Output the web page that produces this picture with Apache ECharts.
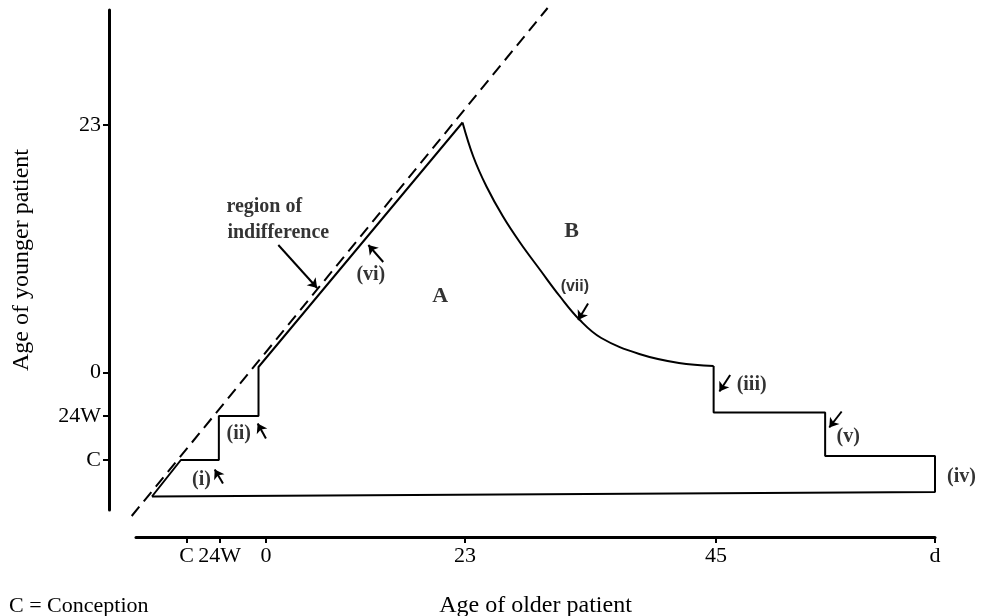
<!DOCTYPE html>
<html>
<head>
<meta charset="utf-8">
<title>Age of younger / older patient</title>
<script src="https://cdn.jsdelivr.net/npm/echarts/dist/echarts.min.js"></script>
<style>
  html, body { margin: 0; padding: 0; background: #fff; }
  #chart { width: 985px; height: 616px; }
</style>
</head>
<body>
<div id="chart"></div>
<script>
// schematic units: x 0..100 across the plot, y 0..100 up the plot
const xTickVals = [9.4, 13.4, 19.0, 43.1, 73.5, 100];
const xTickLabels = ['C', '24W', '0', '23', '45', 'd'];
const yTickVals = [10, 18.8, 27.5, 77];
const yTickLabels = ['C', '24W', '0', '23'];

// outline of region A, left stairs up to the peak
const stairLeft = [[5.2, 2.7], [8.7, 10], [13.3, 10], [13.3, 18.8], [18.1, 18.8], [18.1, 28.6], [42.8, 77.5]];
// curve (vii) from the peak down to the right stairs
const curveVii = [[42.8, 77.5], [44.1, 70.7], [45.7, 64.7], [47.7, 58.7], [49.8, 53.4], [52.2, 48.0],
  [54.6, 42.7], [57.0, 38.0], [59.6, 34.4], [64.2, 31.2], [69.0, 29.4], [73.2, 28.8]];
// right stairs and the bottom edge back to the start
const stairRight = [[73.2, 28.8], [73.2, 19.5], [86.7, 19.5], [86.7, 10.8], [100, 10.8], [100, 3.6], [5.2, 2.7]];
// dashed line of indifference
const diagonal = [[2.75, -1.2], [53.1, 100.4]];

// text annotations [x, y, text, style]
const notes = [
  [18.8, 60.6, 'region of', 'serif'],
  [20.5, 55.4, 'indifference', 'serif'],
  [31.7, 47.0, '(vi)', 'serif'],
  [40.1, 42.7, 'A', 'big'],
  [56.0, 55.7, 'B', 'big'],
  [56.4, 44.7, '(vii)', 'sans'],
  [77.8, 25.0, '(iii)', 'serif'],
  [89.5, 14.7, '(v)', 'serif'],
  [103.2, 6.7, '(iv)', 'serif'],
  [11.2, 6.0, '(i)', 'serif'],
  [15.7, 15.3, '(ii)', 'serif']
];
// arrows: from -> to (arrowhead at "to")
const arrows = [
  [[20.5, 53.0], [25.2, 44.4]],
  [[33.2, 49.6], [31.4, 53.0]],
  [[58.0, 41.3], [56.8, 38.0]],
  [[75.2, 27.0], [73.9, 23.7]],
  [[88.7, 19.7], [87.2, 16.5]],
  [[102.0, 11.0], [100.5, 8.0]],
  [[13.8, 5.3], [12.8, 8.1]],
  [[19.0, 14.3], [18.0, 17.3]]
];

const SERIF = '"Liberation Serif", "DejaVu Serif", serif';
const SANS = '"Liberation Sans", Arial, sans-serif';

function pick(vals, labels) {
  return function (v) {
    const i = vals.findIndex(t => Math.abs(t - v) < 1e-6);
    return i >= 0 ? labels[i] : '';
  };
}

const noteStyle = {
  serif: { fontFamily: SERIF, fontSize: 20, fontWeight: 'bold' },
  big: { fontFamily: SERIF, fontSize: 22, fontWeight: 'bold' },
  sans: { fontFamily: SANS, fontSize: 16, fontWeight: 'bold' }
};

const chart = echarts.init(document.getElementById('chart'));
const outline = { color: '#000', width: 2 };

chart.setOption({
  animation: false,
  backgroundColor: '#fff',
  title: {
    text: 'C = Conception',
    left: 4, top: 590,
    textStyle: { fontFamily: SERIF, fontSize: 22, fontWeight: 'normal', color: '#000' }
  },
  grid: [
    { left: 109, top: 10, right: 50, height: 500, containLabel: false, outerBoundsMode: 'none' },
    { left: 136, top: 536, right: 50, height: 1, containLabel: false, outerBoundsMode: 'none' }
  ],
  xAxis: [
    { type: 'value', gridIndex: 0, min: 0, max: 100, show: false },
    {
      type: 'value', gridIndex: 1, min: 3.27, max: 100, position: 'bottom',
      name: 'Age of older patient', nameLocation: 'middle', nameGap: 57,
      nameTextStyle: { fontFamily: SERIF, fontSize: 24, color: '#000' },
      axisLine: { show: true, lineStyle: { color: '#000', width: 3 } },
      axisTick: { show: true, length: 6, lineStyle: { color: '#000', width: 2 }, customValues: xTickVals },
      axisLabel: { margin: 8, fontFamily: SERIF, fontSize: 22, color: '#000',
        customValues: xTickVals, formatter: pick(xTickVals, xTickLabels) },
      splitLine: { show: false }
    }
  ],
  yAxis: [
    {
      type: 'value', gridIndex: 0, min: 0, max: 100, position: 'left',
      name: 'Age of younger patient', nameLocation: 'middle', nameGap: 75, nameRotate: 90,
      nameTextStyle: { fontFamily: SERIF, fontSize: 24, color: '#000' },
      axisLine: { show: true, lineStyle: { color: '#000', width: 3 } },
      axisTick: { show: true, length: 6, lineStyle: { color: '#000', width: 2 }, customValues: yTickVals },
      axisLabel: { margin: 8, fontFamily: SERIF, fontSize: 22, color: '#000',
        customValues: yTickVals, formatter: pick(yTickVals, yTickLabels) },
      splitLine: { show: false }
    },
    { type: 'value', gridIndex: 1, min: 0, max: 1, show: false }
  ],
  series: [
    { type: 'line', data: diagonal, showSymbol: false, clip: false,
      lineStyle: { color: '#000', width: 2, type: [12, 7] } },
    { type: 'line', data: stairLeft, showSymbol: false, clip: false, lineStyle: outline },
    { type: 'line', data: curveVii, showSymbol: false, clip: false, smooth: 0.4, lineStyle: outline },
    { type: 'line', data: stairRight, showSymbol: false, clip: false, lineStyle: outline },
    {
      type: 'lines', coordinateSystem: 'cartesian2d', xAxisIndex: 0, yAxisIndex: 0,
      symbol: ['none', 'arrow'], symbolSize: 9,
      lineStyle: { color: '#000', width: 2, opacity: 1 },
      data: arrows.map(a => ({ coords: a }))
    },
    {
      type: 'scatter', symbolSize: 0, clip: false,
      data: notes.map(n => ({
        value: [n[0], n[1]], name: n[2],
        label: Object.assign({ show: true, position: 'inside', formatter: '{b}', color: '#000' }, noteStyle[n[3]])
      }))
    }
  ]
});
</script>
</body>
</html>
